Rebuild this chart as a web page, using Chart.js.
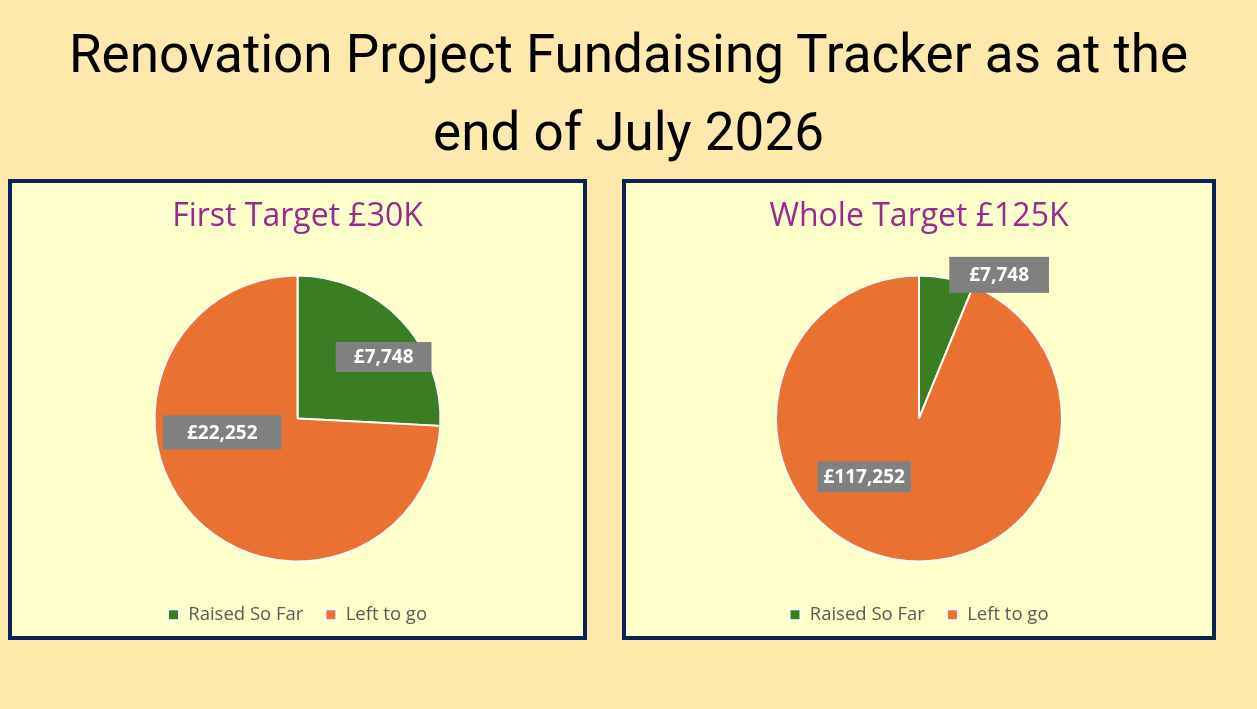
<!DOCTYPE html>
<html>
<head>
<meta charset="utf-8">
<script src="https://cdn.jsdelivr.net/npm/chart.js@4.4.1/dist/chart.umd.min.js"></script>
<style>
  body { margin: 0; background: #fde9ab; width: 1257px; height: 709px; overflow: hidden; position: relative; }
  h1 { position: absolute; left: 0; top: 15px; width: 1257px; margin: 0; text-align: center;
       font-family: Roboto, sans-serif; font-weight: 400; font-size: 53px; line-height: 78px; color: #000; }
  .box { position: absolute; top: 179px; height: 453px; border: 4px solid #0c2256; background: #ffffcc; }
  #box1 { left: 8px; width: 571px; }
  #box2 { left: 622px; width: 586px; }
</style>
</head>
<body>
<h1>Renovation Project Fundaising Tracker as at the<br>end of July 2026</h1>
<div class="box" id="box1"><canvas id="firstChart"></canvas></div>
<div class="box" id="box2"><canvas id="wholeChart"></canvas></div>
<script>
const categories = ['Raised So Far', 'Left to go'];
const firstTarget = [7748, 22252];
const wholeTarget = [7748, 117252];
const sliceColours = ['#3b7d23', '#e97132'];

// where each data label sits: angle offset from slice middle (deg), fraction of radius, box padding
const labelPlacement = {
  firstChart: [{ turn: 8, dist: 0.74, pad: 36, h: 30 }, { turn: 33, dist: 0.535, pad: 48, h: 34 }],
  wholeChart: [{ turn: 18, dist: 1.15, pad: 40, h: 36 }, { turn: 32, dist: 0.56, pad: 12, h: 31 }]
};

const labelPlugin = {
  id: 'boxLabels',
  afterDatasetsDraw(chart) {
    const ctx = chart.ctx;
    const place = labelPlacement[chart.canvas.id];
    const values = chart.data.datasets[0].data;
    chart.getDatasetMeta(0).data.forEach((arc, i) => {
      const mid = (arc.startAngle + arc.endAngle) / 2 + place[i].turn * Math.PI / 180;
      const r = arc.outerRadius * place[i].dist;
      const x = arc.x + Math.cos(mid) * r;
      const y = arc.y + Math.sin(mid) * r;
      const text = '£' + values[i].toLocaleString('en-GB');
      ctx.save();
      ctx.font = 'bold 19px "Open Sans", sans-serif';
      const w = ctx.measureText(text).width + place[i].pad;
      const h = place[i].h;
      ctx.fillStyle = '#808080';
      ctx.fillRect(x - w / 2, y - h / 2, w, h);
      ctx.fillStyle = '#ffffff';
      ctx.textAlign = 'center';
      ctx.textBaseline = 'middle';
      ctx.fillText(text, x, y + 1);
      ctx.restore();
    });
  }
};

function makePie(id, title, values) {
  new Chart(document.getElementById(id), {
    type: 'pie',
    data: {
      labels: categories,
      datasets: [{
        data: values,
        backgroundColor: sliceColours,
        borderColor: '#ffffff',
        borderWidth: 2
      }]
    },
    options: {
      responsive: true,
      maintainAspectRatio: false,
      animation: false,
      radius: 143,
      layout: { padding: { top: 0, bottom: 2 } },
      plugins: {
        title: {
          display: true,
          text: title,
          color: '#9a2a8e',
          font: { family: 'Open Sans', size: 32, weight: 'normal' },
          padding: { top: 15, bottom: 17 }
        },
        legend: {
          position: 'bottom',
          labels: {
            color: '#595959',
            font: { family: 'Open Sans', size: 18.5 },
            boxWidth: 11,
            boxHeight: 11,
            padding: 22
          }
        },
        tooltip: { enabled: false }
      }
    },
    plugins: [labelPlugin]
  });
}

makePie('firstChart', 'First Target £30K', firstTarget);
makePie('wholeChart', 'Whole Target £125K', wholeTarget);
</script>
</body>
</html>
